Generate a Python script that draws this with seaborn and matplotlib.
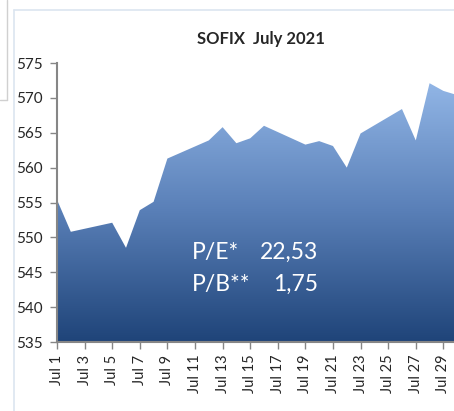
import numpy as np
import pandas as pd
import matplotlib
matplotlib.use("Agg")
import matplotlib.pyplot as plt
import matplotlib.dates as mdates
from matplotlib.colors import LinearSegmentedColormap
from matplotlib.lines import Line2D
import seaborn as sns

# SOFIX closing values, July 2021 (trading days only)
days = [1, 2, 5, 6, 7, 8, 9, 12, 13, 14, 15, 16, 19, 20, 21, 22, 23, 26, 27, 28, 29, 30]
sofix = [555.4, 550.8, 552.1, 548.5, 553.9, 555.1, 561.3, 563.9, 565.8, 563.5, 564.2,
         566.0, 563.3, 563.8, 563.1, 560.0, 564.9, 568.4, 563.9, 572.1, 571.0, 570.4]
pe_label, pe_value = "P/E*", "22,53"
pb_label, pb_value = "P/B**", "1,75"

df = pd.DataFrame({"date": pd.to_datetime([f"2021-07-{d:02d}" for d in days]), "SOFIX": sofix})

sns.set_theme(style="white")
plt.rcParams["font.family"] = ["Lato", "DejaVu Sans"]

W, H = 454, 411
fig = plt.figure(figsize=(W / 100, H / 100), dpi=100)
ax = fig.add_axes([57 / W, 69 / H, 1 - 57 / W, 279 / H])

sns.lineplot(data=df, x="date", y="SOFIX", ax=ax, linewidth=0, color="#8cb0e0")

x0 = mdates.date2num(pd.Timestamp("2021-07-01"))
x1 = x0 + 28.77
ymin, ymax = 535, 575

# gradient fill under the curve
cmap = LinearSegmentedColormap.from_list("sofix", ["#1f4479", "#5a80b8", "#94b8e8"])
xs = mdates.date2num(df["date"])
poly = ax.fill_between(xs, df["SOFIX"], ymin, color="none", lw=0)
grad = np.linspace(0, 1, 256).reshape(-1, 1)
img = ax.imshow(grad, aspect="auto", cmap=cmap, origin="lower",
                extent=[xs.min(), xs.max(), ymin, 573], zorder=1)
img.set_clip_path(poly.get_paths()[0], transform=ax.transData)

ax.set_xlim(x0, x1)
ax.set_ylim(ymin, ymax)
ax.set_yticks(np.arange(535, 576, 5))
ticks = pd.date_range("2021-07-01", "2021-07-29", freq="2D")
ax.set_xticks(mdates.date2num(ticks))
ax.set_xticklabels([f"Jul {t.day}" for t in ticks], rotation=90, fontsize=10.5)
ax.tick_params(axis="y", labelsize=11, pad=5)
ax.tick_params(axis="x", pad=4)
ax.tick_params(axis="both", direction="out", length=5, width=1, color="#868686",
               left=True, bottom=True)
ax.set_xlabel("")
ax.set_ylabel("")
for side in ["top", "right"]:
    ax.spines[side].set_visible(False)
for side in ["left", "bottom"]:
    ax.spines[side].set_color("#868686")
    ax.spines[side].set_linewidth(1.5)
ax.set_facecolor("none")

fig.text(261 / W, 1 - 39 / H, "SOFIX  July 2021", ha="center", va="center",
         fontsize=12, fontweight="bold")

# valuation note inside the area
for label, value, ypix in [(pe_label, pe_value, 252), (pb_label, pb_value, 284)]:
    yy = 1 - ypix / H
    fig.text(192 / W, yy, label, color="white", fontsize=16.5, va="center", ha="left")
    fig.text(318 / W, yy, value, color="white", fontsize=16.5, va="center", ha="right")

# chart-area borders
fig.add_artist(Line2D([14 / W, 1], [1 - 10 / H] * 2, color="#dce5f0", lw=1.2))
fig.add_artist(Line2D([14 / W] * 2, [0, 1 - 10 / H], color="#dce5f0", lw=1.2))
fig.add_artist(Line2D([7 / W] * 2, [1 - 100 / H, 1], color="#d0d0d0", lw=1))
fig.add_artist(Line2D([0, 7 / W], [1 - 100 / H] * 2, color="#d0d0d0", lw=1))

fig.savefig("out.png", dpi=100)
